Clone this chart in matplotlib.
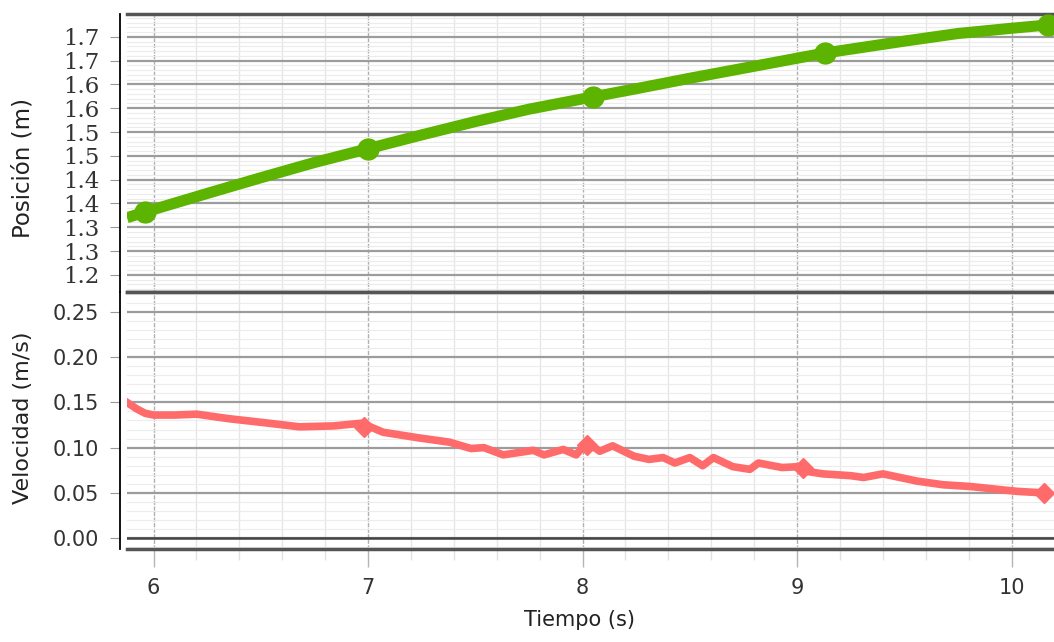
import numpy as np
import matplotlib.pyplot as plt
from matplotlib.ticker import MultipleLocator, FixedLocator, FixedFormatter

# ---------------- data ----------------
# position (m) vs time (s)
t_pos = [5.876, 5.96, 6.25, 6.5, 6.75, 7.0, 7.25, 7.5, 7.75, 8.05, 8.25, 8.5,
         8.75, 9.13, 9.5, 9.75, 10.0, 10.17]
pos = [1.320, 1.332, 1.371, 1.404, 1.436, 1.465, 1.494, 1.522, 1.548, 1.574,
       1.591, 1.613, 1.634, 1.666, 1.691, 1.707, 1.718, 1.725]
t_pos_marks = [5.96, 7.0, 8.05, 9.13, 10.17]
pos_marks = [1.332, 1.465, 1.574, 1.666, 1.725]

# velocity (m/s) vs time (s)
t_vel = [5.876, 5.92, 5.96, 6.0, 6.1, 6.2, 6.35, 6.5, 6.68, 6.84, 6.97, 7.07,
         7.23, 7.38, 7.48, 7.54, 7.63, 7.77, 7.82, 7.91, 7.97, 8.02, 8.08, 8.14,
         8.24, 8.31, 8.376, 8.43, 8.50, 8.56, 8.61, 8.70, 8.78, 8.82, 8.93, 9.01,
         9.04, 9.12, 9.25, 9.31, 9.40, 9.56, 9.68, 9.81, 9.95, 10.03, 10.15]
vel = [0.150, 0.143, 0.138, 0.136, 0.136, 0.137, 0.132, 0.128, 0.123, 0.124,
       0.127, 0.117, 0.111, 0.106, 0.099, 0.100, 0.092, 0.097, 0.092, 0.098,
       0.092, 0.106, 0.096, 0.102, 0.0905, 0.087, 0.089, 0.083, 0.089, 0.080,
       0.089, 0.079, 0.076, 0.083, 0.078, 0.079, 0.074, 0.071, 0.069, 0.067,
       0.071, 0.063, 0.059, 0.057, 0.0535, 0.0516, 0.050]
t_vel_marks = [6.98, 8.02, 9.03, 10.15]
vel_marks = [0.123, 0.103, 0.078, 0.050]

pos_ticks = [1.20, 1.25, 1.30, 1.35, 1.40, 1.45, 1.50, 1.55, 1.60, 1.65, 1.70]
pos_tick_labels = ['1.2', '1.3', '1.3', '1.4', '1.4', '1.5', '1.5', '1.6', '1.6', '1.7', '1.7']
vel_ticks = [0.00, 0.05, 0.10, 0.15, 0.20, 0.25]
vel_tick_labels = ['0.00', '0.05', '0.10', '0.15', '0.20', '0.25']
time_ticks = [6, 7, 8, 9, 10]

green = '#5cb300'
red = '#ff6b6b'

fig = plt.figure(figsize=(10.54, 6.42), dpi=100)
ax1 = fig.add_axes([0.1205, 0.5452, 0.8795, 0.4330])
ax2 = fig.add_axes([0.1205, 0.1449, 0.8795, 0.4003])


def style_axis(ax):
    ax.set_xlim(5.876, 10.198)
    ax.xaxis.set_major_locator(FixedLocator(time_ticks))
    ax.xaxis.set_minor_locator(MultipleLocator(0.2))
    ax.grid(which='minor', axis='y', color='#ececec', lw=0.8)
    ax.grid(which='major', axis='y', color='#9c9c9c', lw=1.6)
    ax.grid(which='minor', axis='x', color='#e6e6e6', lw=1.0)
    ax.grid(which='major', axis='x', color='#b0b0b0', lw=1.0, ls=(0, (3, 1)))
    ax.set_axisbelow(True)
    for s in ['top', 'bottom']:
        ax.spines[s].set_color('#555555')
        ax.spines[s].set_linewidth(2.5)
    ax.spines['right'].set_visible(False)
    ax.spines['left'].set_position(('outward', 5))
    ax.spines['left'].set_linewidth(1.3)
    ax.tick_params(axis='y', which='major', direction='out', length=7,
                   color='#999999', pad=8, labelcolor='#333333')
    ax.tick_params(axis='y', which='minor', length=0)


# -------- position panel --------
style_axis(ax1)
ax1.plot(t_pos, pos, color=green, lw=8, solid_capstyle='butt', zorder=3)
ax1.plot(t_pos_marks, pos_marks, 'o', color=green, ms=15, zorder=4)
ax1.set_ylim(1.164, 1.748)
ax1.yaxis.set_major_locator(FixedLocator(pos_ticks))
ax1.yaxis.set_major_formatter(FixedFormatter(pos_tick_labels))
ax1.yaxis.set_minor_locator(MultipleLocator(0.01))
ax1.tick_params(axis='x', which='both', length=0, labelbottom=False)
for lab in ax1.get_yticklabels():
    lab.set_fontfamily('DejaVu Serif')
    lab.set_fontsize(16.5)

# -------- velocity panel --------
style_axis(ax2)
ax2.axhline(0, color='#444444', lw=1.8, zorder=2)
ax2.plot(t_vel, vel, color=red, lw=5.5, zorder=3)
ax2.plot(t_vel_marks, vel_marks, 'D', color=red, ms=10, zorder=4)
ax2.set_ylim(-0.012, 0.272)
ax2.yaxis.set_major_locator(FixedLocator(vel_ticks))
ax2.yaxis.set_major_formatter(FixedFormatter(vel_tick_labels))
ax2.yaxis.set_minor_locator(MultipleLocator(0.01))
ax2.tick_params(axis='y', labelsize=15)
ax2.tick_params(axis='x', which='major', direction='out', length=13,
                color='#b5b5b5', width=1, labelsize=15, pad=8,
                labelcolor='#333333')
ax2.tick_params(axis='x', which='minor', direction='out', length=8,
                color='#e2e2e2', width=1)

fig.text(0.022, 0.738, 'Posición (m)', rotation=90, ha='center', va='center',
         fontsize=16.5, color='#222222')
fig.text(0.022, 0.349, 'Velocidad (m/s)', rotation=90, ha='center', va='center',
         fontsize=16, color='#222222')
fig.text(0.550, 0.034, 'Tiempo (s)', ha='center', va='center',
         fontsize=15, color='#222222')

fig.savefig('out.png', dpi=100)
